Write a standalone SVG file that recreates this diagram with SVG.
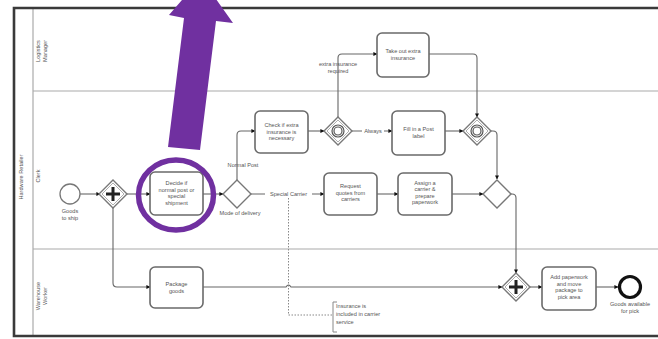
<svg xmlns="http://www.w3.org/2000/svg" width="658" height="339" viewBox="0 0 658 339">
  <style>
    .lbl { font-family: "Liberation Sans", Arial, sans-serif; font-size: 5.6px; fill: #555; text-anchor: middle; }
    .lane { font-family: "Liberation Sans", Arial, sans-serif; font-size: 5.6px; fill: #555; text-anchor: middle; }
    .task { fill: #fff; stroke: #6a6a6a; stroke-width: 1.6; }
    .gw { fill: #fff; stroke: #777; stroke-width: 1.4; }
    .gwin { fill: none; stroke: #999; stroke-width: 0.8; }
    .flow { fill: none; stroke: #666; stroke-width: 1.1; marker-end: url(#arr); }
    .plain { fill: none; stroke: #666; stroke-width: 1.1; }
    .assoc { fill: none; stroke: #888; stroke-width: 1; stroke-dasharray: 1.5 1.5; }
    .sep { stroke: #aaa; stroke-width: 1.2; }
  </style>
  <defs>
    <marker id="arr" viewBox="0 0 10 10" refX="9" refY="5" markerWidth="4" markerHeight="4" orient="auto" markerUnits="userSpaceOnUse">
      <path d="M0,0 L10,5 L0,10 z" fill="#111"/>
    </marker>
  </defs>

  <rect width="658" height="339" fill="#fff"/>

  <!-- pool and lanes -->
  <g id="pool">
    <line class="sep" x1="33" y1="8" x2="33" y2="336"/>
    <line class="sep" x1="33" y1="91" x2="658" y2="91"/>
    <line class="sep" x1="33" y1="249" x2="658" y2="249"/>
    <path d="M660,8 H14 V336 H660" fill="none" stroke="#3a3a3a" stroke-width="2.6"/>
    <text class="lane" transform="translate(23,177) rotate(-90)">Hardware Retailer</text>
    <text class="lane" transform="translate(40,51) rotate(-90)"><tspan x="0" y="0">Logistics</tspan><tspan x="0" y="7">Manager</tspan></text>
    <text class="lane" transform="translate(40,176) rotate(-90)">Clerk</text>
    <text class="lane" transform="translate(40,296) rotate(-90)"><tspan x="0" y="0">Warehouse</tspan><tspan x="0" y="7">Worker</tspan></text>
  </g>

  <!-- sequence flows -->
  <g id="connectors">
    <path class="flow" d="M80,194 H100"/>
    <path class="flow" d="M127,194 H150"/>
    <path class="flow" d="M203,194 H223"/>
    <path class="flow" d="M237,180 V135 Q237,131 241,131 H255"/>
    <path class="flow" d="M308,131 H324"/>
    <path class="flow" d="M338,117 V58 Q338,54 342,54 H377"/>
    <path class="flow" d="M429,54 H473 Q477,54 477,58 V117"/>
    <path class="flow" d="M352,131 H392"/>
    <path class="flow" d="M445,131 H463"/>
    <path class="flow" d="M491,131 H493 Q497,131 497,135 V179"/>
    <path class="flow" d="M251,194 H324"/>
    <path class="flow" d="M377,194 H398"/>
    <path class="flow" d="M452,194 H483"/>
    <path class="flow" d="M511,194 H512 Q516,194 516,198 V273"/>
    <path class="flow" d="M113,208 V283 Q113,287 117,287 H150"/>
    <path class="flow" d="M203,287 H286 Q288.5,283 291,287 H502"/>
    <path class="flow" d="M530,287 H542"/>
    <path class="flow" d="M596,287 H618"/>
    <path class="assoc" d="M288.5,198 V315 H333"/>
  </g>

  <!-- flow labels -->
  <g id="flow-labels">
    <text class="lbl" x="243" y="167">Normal Post</text>
    <text class="lbl" x="240" y="215">Mode of delivery</text>
    <rect x="265" y="190" width="47" height="8" fill="#fff"/>
    <text class="lbl" x="288.5" y="196">Special Carrier</text>
    <rect x="362" y="127" width="22" height="8" fill="#fff"/>
    <text class="lbl" x="373" y="133">Always</text>
    <text class="lbl" x="338" y="66"><tspan x="338" y="66">extra insurance</tspan><tspan x="338" y="73">required</tspan></text>
  </g>

  <!-- events -->
  <g id="start">
    <circle cx="70" cy="194" r="10" fill="#fff" stroke="#777" stroke-width="1.3"/>
    <text class="lbl"><tspan x="70" y="213">Goods</tspan><tspan x="70" y="220">to ship</tspan></text>
  </g>
  <g id="end">
    <circle cx="630" cy="287" r="10.5" fill="#fff" stroke="#111" stroke-width="3.2"/>
    <text class="lbl"><tspan x="630" y="306">Goods available</tspan><tspan x="630" y="313">for pick</tspan></text>
  </g>

  <!-- gateways -->
  <g id="split">
    <path class="gw" d="M113,180 L127,194 L113,208 L99,194 Z"/>
    <path class="gwin" d="M113,183 L124,194 L113,205 L102,194 Z"/>
    <path d="M113,187 V201 M106,194 H120" stroke="#222" stroke-width="3"/>
  </g>
  <g id="mode">
    <path class="gw" d="M237,180 L251,194 L237,208 L223,194 Z"/>
  </g>
  <g id="insurance-split">
    <path class="gw" d="M338,117 L352,131 L338,145 L324,131 Z"/>
    <path class="gwin" d="M338,120 L349,131 L338,142 L327,131 Z"/>
    <circle cx="338" cy="131" r="6" fill="none" stroke="#555" stroke-width="1.2"/>
    <circle cx="338" cy="131" r="4" fill="none" stroke="#555" stroke-width="1.2"/>
  </g>
  <g id="insurance-join">
    <path class="gw" d="M477,117 L491,131 L477,145 L463,131 Z"/>
    <path class="gwin" d="M477,120 L488,131 L477,142 L466,131 Z"/>
    <circle cx="477" cy="131" r="6" fill="none" stroke="#555" stroke-width="1.2"/>
    <circle cx="477" cy="131" r="4" fill="none" stroke="#555" stroke-width="1.2"/>
  </g>
  <g id="merge">
    <path class="gw" d="M497,180 L511,194 L497,208 L483,194 Z"/>
  </g>
  <g id="join">
    <path class="gw" d="M516,273 L530,287 L516,301 L502,287 Z"/>
    <path class="gwin" d="M516,276 L527,287 L516,298 L505,287 Z"/>
    <path d="M516,280 V294 M509,287 H523" stroke="#222" stroke-width="3"/>
  </g>

  <!-- tasks -->
  <g id="decide">
    <rect class="task" x="150" y="172" width="53" height="43" rx="5"/>
    <text class="lbl"><tspan x="176.5" y="185">Decide if</tspan><tspan x="176.5" y="191.5">normal post or</tspan><tspan x="176.5" y="198">special</tspan><tspan x="176.5" y="204.5">shipment</tspan></text>
  </g>
  <g id="check-insurance">
    <rect class="task" x="255" y="111" width="53" height="42" rx="5"/>
    <text class="lbl"><tspan x="281.5" y="127">Check if extra</tspan><tspan x="281.5" y="133.5">insurance is</tspan><tspan x="281.5" y="140">necessary</tspan></text>
  </g>
  <g id="take-insurance">
    <rect class="task" x="377" y="33" width="52" height="44" rx="5"/>
    <text class="lbl"><tspan x="403" y="53">Take out extra</tspan><tspan x="403" y="59.5">insurance</tspan></text>
  </g>
  <g id="post-label">
    <rect class="task" x="392" y="111" width="53" height="44" rx="5"/>
    <text class="lbl"><tspan x="418.5" y="131">Fill in a Post</tspan><tspan x="418.5" y="137.5">label</tspan></text>
  </g>
  <g id="request-quotes">
    <rect class="task" x="324" y="173" width="53" height="42" rx="5"/>
    <text class="lbl"><tspan x="350.5" y="188">Request</tspan><tspan x="350.5" y="194.5">quotes from</tspan><tspan x="350.5" y="201">carriers</tspan></text>
  </g>
  <g id="assign-carrier">
    <rect class="task" x="398" y="173" width="54" height="42" rx="5"/>
    <text class="lbl"><tspan x="425" y="184.5">Assign a</tspan><tspan x="425" y="191">carrier &amp;</tspan><tspan x="425" y="197.5">prepare</tspan><tspan x="425" y="204">paperwork</tspan></text>
  </g>
  <g id="package-goods">
    <rect class="task" x="150" y="267" width="53" height="41" rx="5"/>
    <text class="lbl"><tspan x="176.5" y="286">Package</tspan><tspan x="176.5" y="292.5">goods</tspan></text>
  </g>
  <g id="add-paperwork">
    <rect class="task" x="542" y="267" width="54" height="43" rx="5"/>
    <text class="lbl"><tspan x="569" y="279">Add paperwork</tspan><tspan x="569" y="285.5">and move</tspan><tspan x="569" y="292">package to</tspan><tspan x="569" y="298.5">pick area</tspan></text>
  </g>

  <!-- text annotation -->
  <g id="annotation">
    <path d="M337,302 H333 V332 H337" fill="none" stroke="#888" stroke-width="1"/>
    <text class="lbl" style="text-anchor:start"><tspan x="336" y="308">Insurance is</tspan><tspan x="336" y="316">included in carrier</tspan><tspan x="336" y="324">service</tspan></text>
  </g>

  <!-- highlight callout -->
  <g id="highlight">
    <ellipse cx="176" cy="195" rx="37.5" ry="35" fill="none" stroke="#7030A0" stroke-width="5.5"/>
    <polygon points="168,147 200,150 216,21 233,23 201,-22 169,15 184,18" fill="#7030A0"/>
  </g>
</svg>
